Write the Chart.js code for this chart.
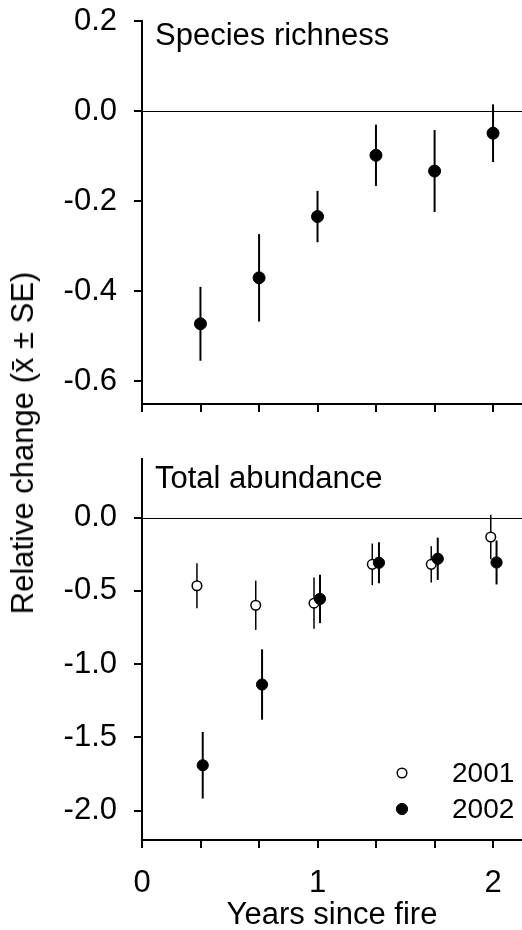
<!DOCTYPE html>
<html>
<head>
<meta charset="utf-8">
<script src="https://cdn.jsdelivr.net/npm/chart.js@4.4.1/dist/chart.umd.min.js"></script>
<style>
  html, body { margin: 0; padding: 0; background: #fff; }
  #wrap { position: relative; width: 522px; height: 930px; }
  .panel { position: absolute; left: 0; width: 522px; }
  #top { top: 0; height: 430px; }
  #bottom { top: 430px; height: 500px; }
  #ytitle {
    position: absolute; left: 23px; top: 443px;
    transform: translate(-50%, -50%) rotate(-90deg);
    font: 31px 'Liberation Sans', Arial, sans-serif;
    white-space: nowrap; color: #000;
  }
</style>
</head>
<body>
<div id="wrap">
  <div class="panel" id="top"><canvas id="richness"></canvas></div>
  <div class="panel" id="bottom"><canvas id="abundance"></canvas></div>
  <div id="ytitle">Relative change (x&#772; ± SE)</div>
</div>
<script>
'use strict'

// x軸の目盛り (1/3年ごと)
const xTicks = [0, 1 / 3, 2 / 3, 1, 4 / 3, 5 / 3, 2];

// Species richness (2002のみ)
const richX = [0.333, 0.667, 1.0, 1.333, 1.667, 2.0];
const richY = [-0.472, -0.370, -0.234, -0.098, -0.133, -0.049];
const richSE = [0.082, 0.097, 0.057, 0.068, 0.091, 0.064];
const richTicks = [0.2, 0.0, -0.2, -0.4, -0.6];

// Total abundance
const abund01X = [0.313, 0.648, 0.98, 1.312, 1.648, 1.987];
const abund01Y = [-0.465, -0.598, -0.584, -0.319, -0.319, -0.132];
const abund01SE = [0.153, 0.168, 0.175, 0.142, 0.124, 0.152];
const abund02X = [0.346, 0.684, 1.014, 1.35, 1.685, 2.02];
const abund02Y = [-1.69, -1.139, -0.555, -0.308, -0.281, -0.306];
const abund02SE = [0.227, 0.24, 0.165, 0.14, 0.144, 0.15];
const abundTicks = [0.0, -0.5, -1.0, -1.5, -2.0];

const legendLabels = ['2001', '2002'];

const FONT = "'Liberation Sans', Arial, sans-serif";
Chart.defaults.font.family = FONT;
Chart.defaults.font.size = 31;
Chart.defaults.color = '#000';

const toPoints = (xs, ys) => xs.map((x, i) => ({ x: x, y: ys[i] }));

// エラーバー (データセットごとに点の前に描く)
const errorBars = {
  id: 'errorBars',
  beforeDatasetDraw(chart, args) {
    const ds = chart.data.datasets[args.index];
    if (!ds.se) return;
    const sx = chart.scales.x, sy = chart.scales.y, ctx = chart.ctx;
    ctx.save();
    ctx.strokeStyle = '#000';
    ctx.lineWidth = ds.barWidth;
    ds.data.forEach((p, i) => {
      const px = sx.getPixelForValue(p.x);
      ctx.beginPath();
      ctx.moveTo(px, sy.getPixelForValue(p.y + ds.se[i]));
      ctx.lineTo(px, sy.getPixelForValue(p.y - ds.se[i]));
      ctx.stroke();
    });
    ctx.restore();
  }
};

// y=0 の線
const zeroLine = {
  id: 'zeroLine',
  beforeDatasetsDraw(chart) {
    const a = chart.chartArea, ctx = chart.ctx;
    const y = Math.round(chart.scales.y.getPixelForValue(0)) + 0.5;
    ctx.save();
    ctx.strokeStyle = '#000';
    ctx.lineWidth = 1;
    ctx.beginPath();
    ctx.moveTo(a.left, y);
    ctx.lineTo(a.right, y);
    ctx.stroke();
    ctx.restore();
  }
};

// パネル名と凡例
const panelText = {
  id: 'panelText',
  afterDraw(chart, args, opts) {
    const a = chart.chartArea, ctx = chart.ctx;
    ctx.save();
    ctx.fillStyle = '#000';
    ctx.font = '31px ' + FONT;
    ctx.textBaseline = 'alphabetic';
    ctx.fillText(opts.text, a.left + 13, a.top + opts.baseline);
    if (opts.legend) {
      ctx.font = '28px ' + FONT;
      ctx.textBaseline = 'middle';
      chart.data.datasets.forEach((ds, i) => {
        const y = a.bottom - 67 + i * 36;
        ctx.beginPath();
        ctx.arc(a.left + 260, y, ds.pointRadius, 0, Math.PI * 2);
        ctx.fillStyle = ds.backgroundColor;
        ctx.fill();
        ctx.lineWidth = ds.pointBorderWidth;
        ctx.strokeStyle = '#000';
        ctx.stroke();
        ctx.fillStyle = '#000';
        ctx.fillText(ds.label, a.left + 310, y + 1);
      });
    }
    ctx.restore();
  }
};

function makePanel(id, datasets, yMin, yMax, yTicks, text, showX) {
  return new Chart(document.getElementById(id), {
    type: 'scatter',
    data: { datasets: datasets },
    plugins: [zeroLine, errorBars, panelText],
    options: {
      responsive: true,
      maintainAspectRatio: false,
      animation: false,
      events: [],
      layout: {
        autoPadding: false,
        padding: { top: showX ? 29 : 21, right: 0, left: 0, bottom: 0 }
      },
      plugins: {
        legend: { display: false },
        tooltip: { enabled: false },
        panelText: text
      },
      scales: {
        x: {
          type: 'linear',
          min: 0,
          max: 2.165,
          afterBuildTicks: (scale) => { scale.ticks = xTicks.map(v => ({ value: v })); },
          afterFit: (scale) => {
            scale.height = showX ? 90 : 26;
            scale.paddingLeft = 0;
            scale.paddingRight = 0;
          },
          ticks: {
            autoSkip: false,
            maxRotation: 0,
            padding: 17,
            callback: (v) => (showX && Math.abs(v - Math.round(v)) < 1e-6) ? String(Math.round(v)) : ''
          },
          grid: { drawOnChartArea: false, drawTicks: true, tickLength: 8, color: '#000', lineWidth: 2 },
          border: { color: '#000', width: 2 },
          title: { display: showX, text: 'Years since fire', padding: { top: 0, bottom: -4 } }
        },
        y: {
          type: 'linear',
          min: yMin,
          max: yMax,
          afterBuildTicks: (scale) => { scale.ticks = yTicks.map(v => ({ value: v })); },
          afterFit: (scale) => {
            scale.width = 142;
            scale.paddingTop = 0;
            scale.paddingBottom = 0;
          },
          ticks: {
            padding: 17,
            callback: (v) => v.toFixed(1)
          },
          grid: { drawOnChartArea: false, drawTicks: true, tickLength: 8, color: '#000', lineWidth: 2 },
          border: { color: '#000', width: 2 }
        }
      }
    }
  });
}

const richChart = makePanel('richness', [{
  label: '2002',
  data: toPoints(richX, richY),
  se: richSE,
  barWidth: 2,
  backgroundColor: '#000',
  borderColor: '#000',
  pointRadius: 6,
  pointBorderWidth: 1
}], -0.65, 0.2, richTicks, { text: 'Species richness', baseline: 24 }, false);

const abundChart = makePanel('abundance', [{
  label: legendLabels[0],
  data: toPoints(abund01X, abund01Y),
  se: abund01SE,
  barWidth: 1.5,
  backgroundColor: '#fff',
  borderColor: '#000',
  pointRadius: 4.8,
  pointBorderWidth: 1.5,
  order: 2
}, {
  label: legendLabels[1],
  data: toPoints(abund02X, abund02Y),
  se: abund02SE,
  barWidth: 2,
  backgroundColor: '#000',
  borderColor: '#000',
  pointRadius: 5.6,
  pointBorderWidth: 1,
  order: 1
}], -2.2, 0.4, abundTicks, { text: 'Total abundance', baseline: 29, legend: true }, true);
</script>
</body>
</html>
